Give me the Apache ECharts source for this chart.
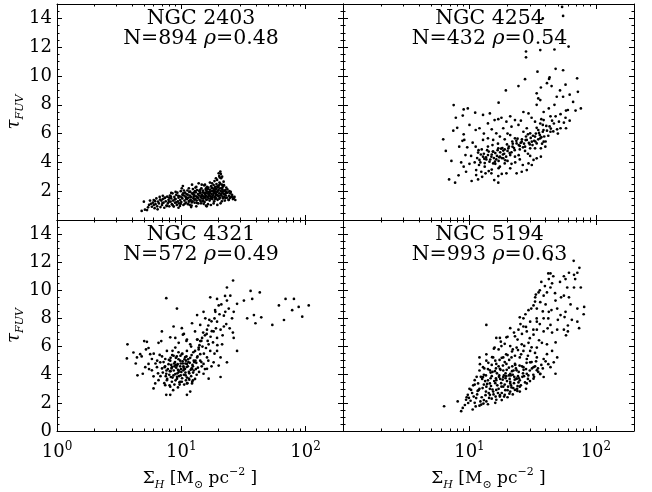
<!DOCTYPE html>
<html>
<head>
<meta charset="utf-8">
<script src="https://cdn.jsdelivr.net/npm/echarts@6/dist/echarts.min.js"></script>
<style>
html,body{margin:0;padding:0;background:#fff;}
#chart{width:652px;height:492px;}
</style>
</head>
<body>
<div id="chart"></div>
<script>
// ---------- data ----------
const galaxyNames = ['NGC 2403', 'NGC 4254', 'NGC 4321', 'NGC 5194'];
const counts = [894, 432, 572, 993];
const rhos = ['0.48', '0.54', '0.49', '0.63'];

const xMajorTicks = [1, 10, 100];
const xMinorTicks = [2, 3, 4, 5, 6, 7, 8, 9, 20, 30, 40, 50, 60, 70, 80, 90, 200];
const yMajorTicks = [0, 2, 4, 6, 8, 10, 12, 14];
const yMinorTicks = [0.5, 1, 1.5, 2.5, 3, 3.5, 4.5, 5, 5.5, 6.5, 7, 7.5, 8.5, 9, 9.5, 10.5, 11, 11.5, 12.5, 13, 13.5, 14.5];
const yLabelsTop = [2, 4, 6, 8, 10, 12, 14];
const yLabelsBottom = [0, 2, 4, 6, 8, 10, 12, 14];
const xLabelsLeft = [1, 10, 100];
const xLabelsRight = [10, 100];

const ngc2403 = [
[4.8,0.63],[5.1,0.72],[5.0,1.27],[5.3,0.69],[5.5,1.05],[5.6,1.35],[5.8,0.92],[5.9,1.2],[6.0,1.39],[6.1,0.82],[6.2,1.1],[6.3,1.5],[6.4,0.95],[6.5,1.28],[6.6,1.15],[6.7,1.6],[6.8,0.9],[6.9,1.35],[7.0,1.05],[7.1,1.45],[7.2,1.2],[7.3,0.85],[7.4,1.55],[7.5,1.3],[7.6,1.0],[7.7,1.62],[7.8,1.15],[7.9,1.4],[8.0,0.95],[8.1,1.7],[8.2,1.27],[8.3,1.5],[8.4,1.1],[8.5,1.85],[8.6,1.35],[8.7,0.93],[8.8,1.6],[8.9,1.2],[9.0,1.45],[9.1,1.75],[9.2,1.05],[9.3,1.9],[9.4,1.3],[9.5,1.55],[9.6,1.15],[9.7,1.65],[9.8,1.39],[9.9,2.0],[10.0,1.25],[10.1,2.2],[10.2,1.5],[10.3,2.36],[10.4,1.04],[10.5,1.7],[10.6,1.35],[10.7,1.9],[10.8,1.62],[10.9,1.2],[11.0,1.8],[11.1,1.45],[11.2,2.05],[11.3,1.1],[11.4,1.55],[11.5,1.27],[11.6,1.95],[11.7,1.7],[11.8,1.97],[11.9,1.4],[12.0,1.6],[12.1,1.0],[12.2,1.85],[12.3,1.3],[12.4,2.15],[12.5,1.5],[12.6,1.62],[12.7,1.75],[12.8,1.2],[12.9,2.0],[13.0,1.45],[13.1,1.65],[13.2,2.3],[13.3,1.35],[13.4,2.08],[13.5,1.55],[13.6,1.8],[13.7,1.15],[13.8,2.55],[13.9,1.7],[14.0,1.4],[14.1,1.95],[14.2,1.85],[14.3,1.6],[14.4,1.16],[14.5,2.2],[14.6,1.5],[14.7,1.75],[14.8,1.3],[14.9,2.05],[15.0,1.65],[15.1,1.5],[15.2,1.9],[15.3,2.4],[15.4,1.25],[15.5,1.8],[15.6,1.55],[15.7,2.1],[15.8,1.7],[15.9,1.4],[16.0,2.0],[16.1,2.31],[16.2,1.6],[16.3,1.85],[16.4,1.1],[16.5,2.25],[16.6,1.5],[16.7,1.95],[16.8,1.75],[16.9,1.35],[17.0,2.1],[17.1,1.97],[17.2,1.65],[17.3,1.04],[17.4,2.35],[17.5,1.8],[17.6,1.55],[17.7,2.0],[17.8,1.45],[17.9,2.2],[18.0,1.7],[18.2,2.43],[18.3,1.9],[18.4,1.3],[18.5,2.05],[18.6,1.6],[18.7,2.3],[18.8,1.62],[18.9,1.85],[19.0,2.15],[19.1,1.5],[19.2,2.5],[19.3,1.75],[19.4,2.78],[19.5,1.95],[19.6,1.4],[19.7,2.25],[19.8,2.05],[19.9,1.65],[20.0,3.24],[20.1,2.4],[20.2,1.85],[20.3,2.6],[20.4,1.55],[20.5,2.2],[20.6,3.36],[20.7,1.16],[20.8,2.0],[20.9,2.9],[21.0,1.75],[21.2,2.45],[21.3,3.01],[21.4,1.9],[21.5,2.1],[21.6,1.5],[21.7,2.35],[21.9,2.66],[22.0,1.8],[22.2,2.0],[22.4,1.35],[22.6,2.08],[22.8,1.7],[23.0,2.25],[23.3,1.55],[23.6,1.9],[24.0,1.4],[24.1,1.39],[24.4,2.0],[24.8,1.85],[25.2,1.6],[25.6,1.75],[26.0,1.45],[26.4,1.5],[27.2,1.39],[26.8,1.6],[19.5,1.05],[16.0,0.95],[12.0,0.9],[9.5,0.85],
[10.2,1.75],[11.0,1.55],[11.8,1.35],[12.6,1.9],[13.4,1.6],[14.2,2.1],[15.0,1.35],[15.8,2.2],[16.6,1.8],[17.4,1.6],[18.2,2.0],[19.0,1.75],[19.8,2.35],[20.6,1.7],[21.4,2.25],[22.2,1.6],[23.0,1.95],[17.0,2.6],[18.5,2.7],[20.4,2.95],[21.8,2.4],[15.5,2.45],[13.0,2.25],[11.5,2.2],[9.0,1.95],[8.0,1.55],
[5.4,0.88],[5.7,1.12],[6.15,1.31],[6.45,0.74],[6.75,1.42],[7.05,1.18],[7.35,1.52],[7.65,0.97],[7.95,1.27],[8.25,1.63],[8.55,1.02],[8.85,1.43],[9.15,1.22],[9.45,1.68],[9.75,0.98],[10.05,1.58],[10.35,1.85],[10.65,1.12],[10.95,1.47],[11.25,1.76],[11.55,1.33],[11.85,1.58],[12.15,1.22],[12.45,1.78],[12.75,1.41],[13.05,1.92],[13.35,1.18],[13.65,1.52],[13.95,2.02],[14.25,1.33],[14.55,1.68],[14.85,1.92],[15.15,1.12],[15.45,1.62],[15.75,1.88],[16.05,1.42],[16.35,2.15],[16.65,1.68],[16.95,1.88],[17.25,1.48],[17.55,2.22],[17.85,1.58],[18.15,1.82],[18.45,2.12],[18.75,1.45],[19.05,1.98],[19.35,2.32],[19.65,1.72],[19.95,2.08],[20.25,1.48],[20.55,2.52],[20.85,1.82],[21.15,2.18],[21.45,1.62],[21.75,1.98],[22.05,2.42],[22.35,1.78],[22.65,1.52],[22.95,1.88],[23.5,2.12],[24.2,1.68],[24.6,1.52],[25.0,1.95],[25.8,1.62],[10.5,2.05],[12.2,2.45],[14.6,2.45],[17.7,2.55],[19.0,2.9],[20.2,3.05],[20.8,3.2],[13.2,0.95],[15.8,1.0],[18.2,1.15],[21.2,1.3],[8.3,1.88],[7.1,1.68],[6.0,1.05],[11.7,1.05],[9.9,1.12]
];

const ngc4254 = [
[54,14.8],[55,14.17],[38,14.0],[28,11.7],[28,11.3],[36.3,11.8],[47,11.84],[60.8,12.04],[48,10.5],[34.5,10.3],[55,10.4],[71,9.84],[27.5,9.78],[42.6,9.8],[43,9.9],[41,9.5],[24.4,9.3],[44.6,9.3],[36.7,9.2],[57.5,9.4],[72,8.9],[19.4,9.0],[34,8.8],[35,8.44],[36.3,8.33],[49,8.56],[55,8.56],[17,8.15],[34,8.0],[66,8.2],[76,7.75],
[7.5,7.98],[9.0,7.68],[9.7,7.75],[11.1,7.45],[12.8,7.3],[14.5,7.4],[8.85,7.25],[7.8,7.1],[16.9,7.0],[17.9,7.1],[21,7.2],[26.7,7.5],[29.3,7.4],[38.6,7.5],[42.4,7.75],[43.7,7.2],[52.5,7.35],[57.5,7.1],[62,6.9],[69,7.6],[60,7.64],
[15.8,6.94],[19.6,6.83],[22.9,6.94],[24.4,6.6],[33,6.83],[36.3,6.7],[38.6,6.94],[40.5,6.53],[46.5,6.7],[51,6.83],[55.8,6.76],[52.5,6.37],[58,6.37],[14,6.71],[12,6.37],[11.2,6.25],[7.45,6.2],[9,5.95],[18.5,6.37],[21.5,6.48],[26.7,6.13],[28.4,6.37],[30.2,6.02],[35,6.25],[38,6.13],[43.7,6.13],[49.3,6.3],
[6.2,5.6],[6.5,4.8],[9.1,5.56],[10.6,5.37],[11.2,5.09],[8.3,5.09],[9.3,4.51],[12.8,5.56],[14,5.67],[15.4,5.56],[16.3,6.02],[17.4,5.79],[19,5.6],[21,5.9],[22.9,5.67],[23.6,5.32],[25.9,5.44],[28.4,5.56],[31.1,5.44],[33,5.79],[34,5.32],[36.3,5.67],[38.6,5.44],[39.8,5.09],[36.7,4.98],[33,4.98],[30.2,4.98],[27.5,5.09],[25,5.14],[21.9,5.09],[20.3,4.98],[18.5,4.82],[16.9,4.98],[15.4,4.75],[14,4.51],[12.8,4.4],[11.7,4.68],[12,4.17],[13.6,4.21],[14.9,4.4],[16.3,4.21],[17.4,4.4],[18.5,4.28],[21,4.51],[22.9,4.4],
[15.4,3.93],[13.2,3.7],[11.9,3.82],[11.3,3.47],[12.4,3.35],[13.4,3.24],[11.3,3.12],[9.4,3.35],[9,3.7],[6.9,2.82],[7.7,2.59],[10.4,2.71],[11.7,2.82],[15.7,2.77],[16.9,2.59],[19.6,3.24],[21,3.59],[23.6,3.24],[25.9,3.35],[28.4,3.47],[26.4,3.82],[29.3,3.93],[31.1,3.82],[32.1,4.17],[34,4.28],[36.7,4.4],[30.2,4.45],[25,4.21],[16.9,3.05],[14.9,3.24],[17.4,3.7],[19,3.93],
[13.0,4.6],[13.5,4.35],[14.2,4.75],[14.6,4.2],[15.0,4.55],[15.6,4.3],[16.0,4.65],[16.5,4.45],[17.0,4.1],[17.5,4.7],[18.0,4.3],[18.8,4.6],[19.5,4.4],[20.0,4.8],[20.5,5.1],[21.5,4.7],[22.5,5.0],[23.5,5.5],[24.5,5.2],[26.0,5.6],[27.0,5.3],[28.0,5.8],[29.5,5.35],[30.5,5.7],[31.5,5.2],[32.5,5.5],[33.5,6.0],[35.0,5.6],[36.0,5.9],[37.5,5.3],[39.0,5.8],[41.0,6.2],[12.5,4.9],[14.0,5.1],[15.2,5.2],[16.8,5.3],[18.2,5.0],[11.5,4.3],[12.2,4.0],[13.2,3.95],[16.0,3.9],[19.0,4.9],[22.0,5.3],[25.0,4.9],[27.5,4.8],[29.0,4.6],[34.0,6.4],[38.0,6.6],[43.0,6.5],[45.0,6.9],[48.0,7.2],[50.0,6.0],[15.0,3.5],[17.0,3.6],[20.0,4.1],[23.0,4.0],
[12.3,4.55],[13.1,4.25],[13.8,4.85],[14.4,4.05],[15.3,4.75],[15.9,4.05],[16.7,4.85],[17.2,4.35],[17.8,4.95],[18.4,4.55],[19.2,4.15],[19.8,5.25],[20.8,4.65],[21.8,5.45],[22.8,4.85],[24.0,5.65],[25.4,5.35],[26.5,5.05],[27.8,5.55],[29.0,5.95],[30.0,5.25],[31.8,5.85],[33.2,5.45],[35.5,6.05],[37.0,5.75],[38.5,6.25],[40.0,5.45],[42.0,5.85],[44.0,6.35],[46.0,6.15],[11.0,4.0],[11.8,4.85],[10.3,4.45],[9.6,5.05],[8.8,5.5],[8.0,6.4],[10.0,6.6],[13.0,6.0],[15.0,6.3],[20.0,6.0],[25.5,6.9],[31.0,7.1],[37.0,7.0],[47.0,8.0],[52.0,9.0],[62.0,8.7],[58.0,7.6],[8.2,3.1],[7.2,4.1],[8.6,4.0],[10.0,3.9],[12.6,3.0],[14.2,3.4],[18.0,3.2],[21.5,3.9],[24.5,4.5]
];

const ngc4321 = [
[3.69,6.16],[3.65,5.16],[4.12,5.58],[4.4,5.23],[4.67,5.46],[4.44,3.96],[4.9,4.07],[5.03,6.39],[5.29,6.34],[5.45,5.9],[5.62,5.46],[5.8,5.12],[5.45,4.77],[5.13,4.54],[5.8,4.31],[5.98,3.89],[6.17,3.38],[5.98,3.03],[6.56,3.61],[6.37,4.54],[6.77,4.88],[6.7,5.41],[6.56,6.27],[6.98,7.08],[7.57,9.44],[8.15,6.66],[8.67,7.43],[9.23,8.7],[6.9,6.39],[7.66,5.69],[7.43,5.12],[7.35,4.54],[7.57,4.07],[7.66,3.61],[7.43,3.26],[7.57,2.57],[8.15,2.57],[8.15,3.15],[8.24,3.84],[8.4,4.54],[8.15,5.0],[8.67,5.35],[8.95,5.93],[9.53,6.27],[8.95,6.62],[10.3,6.85],[10.1,7.31],[11.1,6.5],[11.8,6.16],[11.1,5.69],[10.1,5.46],[9.8,5.0],[9.23,4.65],[9.53,4.19],[9.23,3.72],[9.8,3.49],[11.1,3.38],[11.5,3.72],[11.1,2.57],[11.8,2.8],[12.2,3.38],[12.2,4.42],[12.6,5.0],[11.1,4.77],[10.4,4.31],[13.4,5.23],[14.2,5.46],[12.9,5.69],[13.8,5.93],[13.4,6.5],[14.2,6.39],[14.7,6.62],[12.9,7.08],[12.2,7.66],[14.2,7.54],[13.4,8.24],[15.1,8.47],[15.6,8.01],[17.1,9.5],[16.1,7.2],[16.6,6.16],[17.1,5.69],[16.1,5.23],[15.1,4.77],[16.1,4.42],[16.6,3.72],[15.1,4.07],[18.8,8.47],[19.4,7.77],[20,8.93],[19.4,9.39],[18.2,7.08],[19.4,6.62],[20.7,7.2],[22,7.43],[21.3,6.16],[19.4,5.69],[20.7,5.23],[20,4.65],[18.2,4.88],[22.6,8.47],[23.3,9.27],[24.8,9.62],[23.3,10.2],[26.1,10.7],[24.1,8.7],[25.6,8.01],[26.4,8.47],[28.1,9.04],[26.4,6.62],[28.1,5.69],[23.3,4.88],[20.7,3.84],[31.9,9.27],[33.9,8.01],[37.2,9.39],[36.1,9.96],[38.4,8.24],[39.5,7.66],[42.8,9.85],[44,8.08],[54,7.54],[61,8.93],[67,7.89],[69,9.39],[78,8.59],[80.6,9.39],[88,8.82],[94,8.13],[106,8.93],
[7.8,4.4],[8.0,4.0],[8.3,4.7],[8.5,3.8],[8.7,4.3],[8.9,4.9],[9.0,3.6],[9.1,4.5],[9.3,4.1],[9.5,5.1],[9.6,3.9],[9.8,4.6],[10.0,4.2],[10.1,3.5],[10.3,4.8],[10.5,4.0],[10.7,4.4],[10.9,5.0],[11.1,3.8],[11.3,4.6],[11.5,4.2],[11.8,5.2],[12.0,3.9],[12.3,4.7],[12.6,4.3],[13.0,5.0],[13.3,4.0],[13.6,4.5],[7.2,4.9],[7.5,3.9],[8.2,5.2],[8.8,3.3],[9.4,3.1],[10.2,5.5],[11.0,5.3],[12.5,5.6],[13.8,5.8],[14.5,6.4],[14.0,6.1],[13.5,6.5],[14.8,6.0],[15.5,6.8],[16.5,7.5],[17.5,7.8],[18.5,8.0],[19.0,7.3],[16.0,6.9],[15.0,7.0],[12.0,6.0],[11.0,6.4],[10.5,6.9],[9.5,5.6],[8.5,5.7],[7.0,5.3],[6.5,4.1],[6.2,4.8],[7.3,3.4],[8.6,2.9],[14.5,4.9],[15.5,4.4],[16.5,5.0],[17.5,4.6],[18.5,5.5],[19.5,6.1],[21.5,6.8],[23.0,7.6],[22.0,8.2],[24.5,7.3],[26.0,7.0],
[8.1,4.25],[8.8,4.6],[9.4,4.35],[9.9,3.95],[10.4,4.6],[10.8,4.15],[11.4,4.9],[12.1,4.45],[9.2,5.3],[10.6,5.1],[7.9,4.75],[8.4,3.5],[9.7,3.3],[10.9,3.6],[12.4,3.6],
[7.1,4.15],[7.4,4.6],[7.7,3.7],[7.95,5.05],[8.05,3.25],[8.35,4.45],[8.45,5.4],[8.65,3.95],[8.75,4.8],[8.95,4.05],[9.05,5.2],[9.25,3.85],[9.35,4.75],[9.55,4.3],[9.65,3.45],[9.85,5.35],[9.95,4.4],[10.15,3.75],[10.25,4.95],[10.45,4.5],[10.55,3.3],[10.75,5.25],[10.85,3.95],[11.05,4.55],[11.2,3.4],[11.35,5.1],[11.6,3.65],[11.7,4.85],[11.9,4.35],[12.1,5.4],[12.25,3.5],[12.45,4.15],[12.7,4.9],[12.9,3.7],[13.1,4.4],[13.5,5.3],[13.9,4.2],[14.2,5.0],[14.6,4.6],[15.2,5.5],[15.8,5.9],[16.3,6.4],[17.2,6.7],[18.0,6.3],[17.6,7.1],[16.8,7.9],[18.7,8.6],[20.3,8.3],[21.0,9.0],[22.5,9.6],[6.8,3.9],[6.4,5.0],[7.0,4.45],[7.6,4.3],[8.2,4.25],[9.0,4.7],[9.9,4.8],[10.8,4.8],[11.6,4.1],[12.4,4.6],[13.2,4.85],[6.0,5.5],[5.5,4.4],[4.8,5.3],[5.2,5.8],[4.3,4.8]
];

const ngc5194 = [
[6.3,1.76],[8.6,1.41],[8.85,1.64],[8.07,2.1],[9.4,2.22],[9.77,1.99],[10.6,1.53],[9.7,2.57],[10.3,2.92],[11.3,2.34],[12.4,1.88],[13.6,2.1],[11.7,3.38],[11,3.61],[12.8,3.84],[13.6,3.15],[14.5,2.57],[15.4,2.8],[16.3,2.22],[17.4,2.45],[19,2.57],[21,2.8],[22.9,2.92],[25,3.15],[28.4,3.38],[32.1,3.72],[36.3,4.07],[38.6,3.84],[43.7,4.54],[46.4,4.88],[47.9,4.07],[49.4,5.23],[45,5.69],[41,5.46],[38.6,5.12],[34.1,5.23],[30.2,4.88],[26.7,4.54],[23.6,4.31],[21,4.07],[18.5,3.84],[16.3,3.61],[14.5,3.38],[12.8,4.54],[12,5.23],[13.6,5.0],[15.4,5.23],[16.3,4.77],[14.5,4.31],[17.4,4.42],[18.5,5.23],[19.6,4.77],[21.5,5.23],[22.9,4.77],[25,5.23],[26.7,5.69],[28.4,5.12],[30.2,5.69],[32.1,4.54],[34.1,4.31],[28.4,4.07],[23.6,3.72],[21,3.38],[18.5,3.15],[16.3,2.92],
[15.8,5.93],[17.9,6.04],[21,6.04],[23.6,5.93],[25.9,6.16],[29.3,6.27],[34.1,5.93],[37.4,6.27],[41,6.16],[16.3,6.62],[17.4,6.62],[19.6,6.66],[22.9,6.73],[13.6,7.54],[21,7.31],[24.4,7.2],[26.7,7.43],[28.4,7.08],[32.1,6.85],[34.1,7.2],[38.6,7.08],[43.7,7.54],[49.4,7.2],[55.8,7.2],[60,7.08],[71.3,7.77],[73.6,7.31],[80.7,8.82],[71.3,8.7],[57.5,8.47],[52.5,8.24],[42.4,8.47],[38.6,8.01],[34.1,7.77],[30.2,7.77],[26.7,8.01],[25,8.08],[29.3,8.59],[34.1,8.7],[36.3,9.16],[38.6,9.62],[41,9.85],[43.7,10.2],[42.4,10.8],[43.7,11.2],[45,10.5],[35.2,9.85],[33.1,9.5],[32.1,8.93],[47.9,9.27],[49.4,8.7],[55.8,9.62],[59.3,10.2],[57.5,10.8],[55.8,11.0],[61.2,11.25],[67.1,11.1],[71.3,11.25],[66.7,12.1],[42,11.2],[67.1,10.2],[75.9,10.2],[61.2,9.5],
[11.5,2.6],[12.0,3.0],[12.5,2.4],[13.0,3.3],[13.5,2.8],[14.0,3.6],[14.5,3.0],[15.0,3.9],[15.5,2.6],[16.0,3.4],[16.5,4.1],[17.0,3.0],[17.5,3.7],[18.0,2.7],[18.5,4.3],[19.0,3.3],[19.5,3.9],[20.0,2.9],[20.5,4.5],[21.0,3.5],[21.5,3.1],[22.0,4.0],[22.5,3.4],[23.0,4.7],[23.5,3.7],[24.0,3.2],[24.5,4.2],[25.0,3.6],[26.0,4.6],[27.0,3.9],[28.0,4.4],[29.0,3.7],[30.0,4.3],[31.0,4.9],[32.0,4.0],[33.0,4.6],[35.0,4.2],[37.0,4.7],[13.0,4.0],[14.0,4.4],[15.0,4.7],[16.0,5.0],[17.0,4.6],[18.0,5.2],[19.0,4.9],[20.0,5.4],[12.0,4.3],[11.0,3.3],[10.5,2.7],[9.5,2.4],[10.0,3.0],[11.0,2.0],[12.0,1.8],[13.0,2.2],[14.0,1.9],[15.0,2.3],[16.0,2.0],[18.0,2.2],[20.0,2.4],[22.0,2.6],[25.0,2.8],[28.0,3.0],[17.0,5.8],[19.0,6.2],[22.0,5.8],[24.0,6.5],[26.0,6.9],[28.0,7.4],[30.0,6.6],[32.0,7.2],[34.0,8.0],[36.0,7.6],[38.0,8.5],[33.0,9.2],[36.0,10.0],[40.0,9.0],[42.0,8.0],[45.0,7.0],[48.0,6.3],[50.0,7.9],[53.0,9.5],[46.0,11.0],[44.0,12.2],[63.0,9.0],[58.0,6.8],[60.0,7.5],
[13.3,3.55],[14.8,3.2],[16.2,3.75],[17.8,3.4],[19.3,4.1],[20.8,3.7],[22.3,4.3],[24.2,3.9],[26.5,4.1],[15.2,4.2],[17.2,3.95],[19.8,3.55],[21.8,4.6],[12.6,3.7],[11.8,2.9],[14.2,2.7],[16.8,2.7],[19.2,2.9],[21.3,3.25],[23.8,3.0],
[10.2,2.15],[10.8,2.45],[11.2,1.75],[11.6,2.85],[12.2,2.1],[12.7,3.05],[12.9,1.95],[13.4,2.55],[13.8,3.35],[14.3,2.35],[14.7,3.75],[15.2,2.95],[15.7,3.55],[16.1,2.45],[16.6,3.25],[17.1,3.85],[17.4,2.55],[17.9,3.15],[18.3,3.65],[18.8,2.45],[19.3,3.75],[19.7,4.35],[20.2,3.15],[20.7,2.65],[21.2,3.95],[21.7,4.25],[22.2,3.05],[22.8,3.65],[23.3,4.45],[23.9,2.85],[24.4,3.45],[24.9,4.65],[25.5,3.25],[26.2,3.85],[26.8,4.35],[27.5,3.45],[28.3,4.85],[29.2,3.95],[30.1,3.55],[31.2,4.45],[32.4,3.85],[33.6,4.95],[34.8,4.45],[36.2,4.05],[38.0,4.45],[40.0,4.95],[42.0,4.75],[13.1,4.45],[14.1,4.85],[15.1,5.25],[16.2,4.45],[17.3,5.05],[18.4,4.65],[19.5,5.45],[20.6,5.05],[21.7,5.65],[22.9,5.35],[24.2,5.75],[25.6,5.45],[27.1,6.05],[29.0,5.35],[31.0,5.95],[33.0,5.55],[35.5,6.45],[12.3,3.85],[13.5,3.95],[14.7,4.15],[15.9,4.25],[17.6,4.35],[18.7,3.95],[20.5,3.95],[22.6,3.85],[24.6,3.75],[9.2,1.85],[9.9,2.35],[10.7,3.25],[11.4,3.85],[12.1,4.75],[13.6,5.45],[15.6,5.85],[17.7,6.35],[20.0,6.7],[22.5,7.0],[25.3,7.6],[27.7,8.3],[30.8,8.7],[33.5,9.7],[37.0,10.6],[39.5,10.3],[41.5,7.3],[44.5,8.6],[47.5,9.8],[52.0,10.6],[56.5,8.1],[64.5,7.9],[68.5,10.8],[74.0,11.6],[80.0,8.3]
];

const panelData = [ngc2403, ngc4254, ngc4321, ngc5194];

// ---------- layout ----------
const FONT = 'DejaVu Serif';
const grids = [
  {left: 57, top: 4, width: 286, height: 216},
  {left: 343, top: 4, width: 291, height: 216},
  {left: 57, top: 220, width: 286, height: 217},
  {left: 343, top: 220, width: 291, height: 217}
];

const black = '#000';
const xRich = {
  b: {fontFamily: FONT, fontSize: 18, color: black, lineHeight: 22},
  p: {fontFamily: FONT, fontSize: 12, color: black, verticalAlign: 'top', lineHeight: 12}
};
const xNameRich = {
  a: {fontFamily: FONT, fontSize: 17, color: black, lineHeight: 24},
  s: {fontFamily: FONT, fontSize: 11, color: black, verticalAlign: 'bottom', lineHeight: 11},
  si: {fontFamily: FONT, fontSize: 11, fontStyle: 'italic', color: black, verticalAlign: 'bottom', lineHeight: 11},
  p: {fontFamily: FONT, fontSize: 11, color: black, verticalAlign: 'top', lineHeight: 11}
};
const yNameRich = {
  t: {fontFamily: FONT, fontSize: 18, fontStyle: 'italic', color: black, lineHeight: 22},
  s: {fontFamily: FONT, fontSize: 11, fontStyle: 'italic', color: black, verticalAlign: 'bottom', lineHeight: 11}
};

const xAxes = [];
const yAxes = [];
grids.forEach((g, i) => {
  const bottomRow = i >= 2;
  const leftCol = i % 2 === 0;
  const baseX = {type: 'log', logBase: 10, gridIndex: i, min: 1, max: 200,
    splitLine: {show: false}, axisPointer: {show: false}, silent: true};
  xAxes.push(Object.assign({}, baseX, {
    position: 'bottom',
    axisLine: {show: true, onZero: false, lineStyle: {color: black, width: 1}},
    axisTick: {show: true, inside: true, length: 5, customValues: xMajorTicks, lineStyle: {color: black, width: 1}},
    axisLabel: {show: bottomRow, customValues: leftCol ? xLabelsLeft : xLabelsRight, margin: 10,
      formatter: v => '{b|10}{p|' + Math.round(Math.log10(v)) + '}', rich: xRich},
    name: bottomRow ? '{a|Σ}{si|H}{a| [M}{s|⊙}{a| pc}{p|−2}{a| ]}' : '',
    nameLocation: 'middle', nameGap: 36,
    nameTextStyle: {rich: xNameRich}
  }));
  xAxes.push(Object.assign({}, baseX, {
    position: 'bottom',
    axisLine: {show: false, onZero: false},
    axisTick: {show: true, inside: true, length: 2.5, customValues: xMinorTicks, lineStyle: {color: black, width: 1}},
    axisLabel: {show: false}
  }));
  xAxes.push(Object.assign({}, baseX, {
    position: 'top',
    axisLine: {show: true, onZero: false, lineStyle: {color: black, width: 1}},
    axisTick: {show: true, inside: true, length: 5, customValues: xMajorTicks, lineStyle: {color: black, width: 1}},
    axisLabel: {show: false}
  }));
  xAxes.push(Object.assign({}, baseX, {
    position: 'top',
    axisLine: {show: false, onZero: false},
    axisTick: {show: true, inside: true, length: 2.5, customValues: xMinorTicks, lineStyle: {color: black, width: 1}},
    axisLabel: {show: false}
  }));

  const baseY = {type: 'value', gridIndex: i, min: 0, max: 15,
    splitLine: {show: false}, axisPointer: {show: false}, silent: true};
  yAxes.push(Object.assign({}, baseY, {
    position: 'left',
    axisLine: {show: true, onZero: false, lineStyle: {color: black, width: 1}},
    axisTick: {show: true, inside: true, length: 5, customValues: yMajorTicks, lineStyle: {color: black, width: 1}},
    axisLabel: {show: leftCol, customValues: bottomRow ? yLabelsBottom : yLabelsTop, margin: 5,
      fontFamily: FONT, fontSize: 18, color: black},
    name: leftCol ? '{t|τ}{s|FUV}' : '',
    nameLocation: 'middle', nameGap: 23, nameRotate: 90,
    nameTextStyle: {rich: yNameRich}
  }));
  yAxes.push(Object.assign({}, baseY, {
    position: 'left',
    axisLine: {show: false, onZero: false},
    axisTick: {show: true, inside: true, length: 2.5, customValues: yMinorTicks, lineStyle: {color: black, width: 1}},
    axisLabel: {show: false}
  }));
  yAxes.push(Object.assign({}, baseY, {
    position: 'right',
    axisLine: {show: true, onZero: false, lineStyle: {color: black, width: 1}},
    axisTick: {show: true, inside: true, length: 5, customValues: yMajorTicks, lineStyle: {color: black, width: 1}},
    axisLabel: {show: false}
  }));
  yAxes.push(Object.assign({}, baseY, {
    position: 'right',
    axisLine: {show: false, onZero: false},
    axisTick: {show: true, inside: true, length: 2.5, customValues: yMinorTicks, lineStyle: {color: black, width: 1}},
    axisLabel: {show: false}
  }));
});

const titleRich = {
  n: {fontFamily: FONT, fontSize: 20.5, color: black},
  r: {fontFamily: FONT, fontSize: 20.5, fontStyle: 'italic', color: '#222'},
  e: {fontFamily: FONT, fontSize: 20.5, color: '#666'}
};
const graphics = [];
grids.forEach((g, i) => {
  const cx = g.left + g.width / 2 + 1;
  graphics.push({
    type: 'text', silent: true,
    style: {x: cx, y: g.top + 15, text: galaxyNames[i], align: 'center', verticalAlign: 'middle',
      fontFamily: FONT, fontSize: 20.5, fill: black}
  });
  graphics.push({
    type: 'text', silent: true,
    style: {x: cx, y: g.top + 35,
      text: '{n|N=' + counts[i] + ' }{r|ρ}{e|=}{n|' + rhos[i] + '}',
      align: 'center', verticalAlign: 'middle', rich: titleRich, fontFamily: FONT, fontSize: 20.5, fill: black}
  });
});

const series = panelData.map((d, i) => ({
  type: 'scatter', xAxisIndex: i * 4, yAxisIndex: i * 4, data: d,
  symbol: 'circle', symbolSize: 2.7, itemStyle: {color: black, opacity: 1}, silent: true
}));

const chart = echarts.init(document.getElementById('chart'), null, {renderer: 'canvas'});
chart.setOption({
  backgroundColor: '#fff',
  animation: false,
  grid: grids,
  xAxis: xAxes,
  yAxis: yAxes,
  graphic: graphics,
  series: series
});
</script>
</body>
</html>
